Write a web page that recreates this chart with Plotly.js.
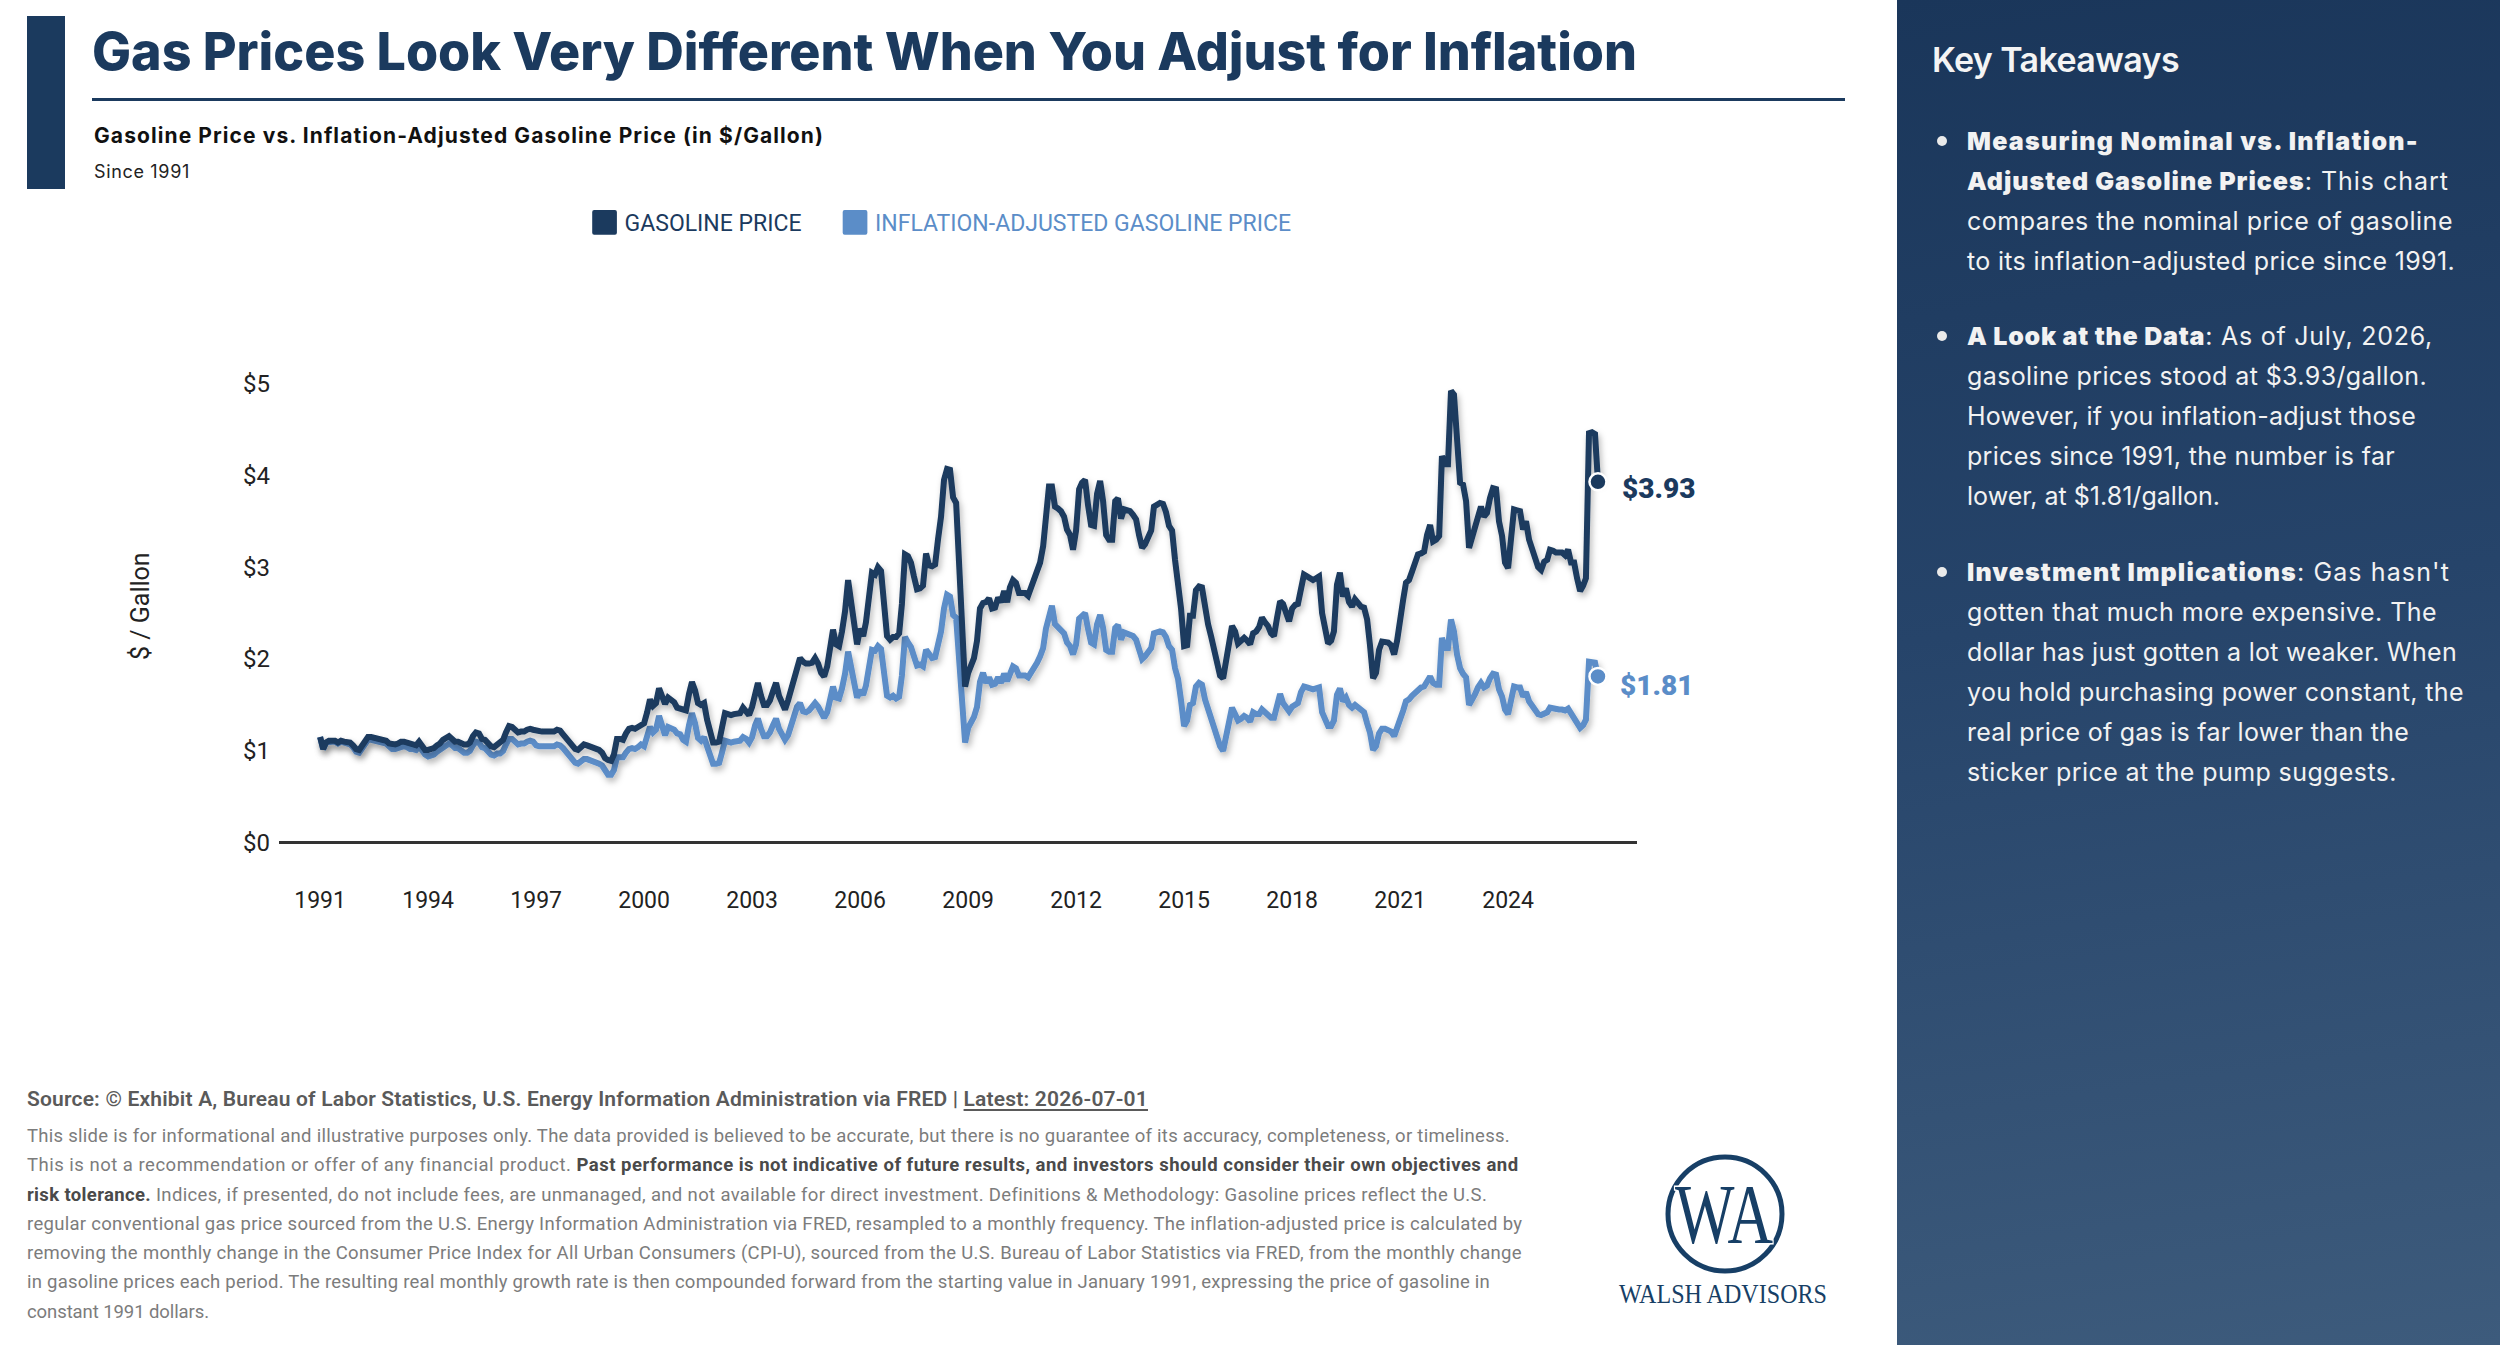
<!DOCTYPE html>
<html>
<head>
<meta charset="utf-8">
<script src="https://cdn.plot.ly/plotly-3.0.1.min.js"></script>
<style>
  html, body { margin:0; padding:0; }
  body { width:2500px; height:1345px; position:relative; overflow:hidden; background:#fff; font-family: Roboto, "Liberation Sans", sans-serif; }
  .abs { position:absolute; white-space:nowrap; }
  .fit { display:inline-block; white-space:nowrap; }
  #bar { left:27px; top:16px; width:38px; height:173px; background:#1b3a5e; }
  #title { left:92px; top:26px; font-family: Inter, Roboto, sans-serif; font-size:52px; line-height:52px; font-weight:800; color:#1b3a5e; }
  #rule { left:92px; top:98px; width:1753px; height:3px; background:#1b3a5e; }
  #subtitle { left:94px; top:125px; font-family: Inter, Roboto, sans-serif; font-size:21px; line-height:22px; font-weight:700; color:#111; }
  #since { left:94px; top:162px; font-family: Inter, Roboto, sans-serif; font-size:18px; line-height:19px; color:#222; }
  #chart { position:absolute; left:0; top:0; width:1897px; height:1345px; }
  #source { left:27px; top:1089px; font-size:21px; line-height:21px; font-weight:600; color:#5a5a5a; }
  #source u { text-underline-offset:3px; }
  #disc { left:27px; top:1122px; font-size:18.5px; line-height:29.3px; color:#7c7c7c; }
  #disc b { color:#4a4a4a; font-weight:700; }
  #panel { left:1897px; top:0; width:603px; height:1345px;
           background: linear-gradient(172deg, #1a365a 0%, #26446a 45%, #3d5b7c 100%); }
  #kt { left:35px; top:42px; font-family: Inter, Roboto, sans-serif; font-size:34px; line-height:36px; font-weight:600; color:#f4f4f4; }
  .para { position:absolute; left:70px; font-family: Inter, Roboto, sans-serif; font-size:25px; line-height:40px; color:#f2f2f2; }
  .para b { font-weight:900; }
  .dot { position:absolute; left:40px; width:10px; height:10px; border-radius:50%; background:#eaeaea; }
</style>
</head>
<body>
<div id="bar" class="abs"></div>
<div id="title" class="abs"><span class="fit" data-w="1545">Gas Prices Look Very Different When You Adjust for Inflation</span></div>
<div id="rule" class="abs"></div>
<div id="subtitle" class="abs"><span class="fit" data-w="730">Gasoline Price vs. Inflation-Adjusted Gasoline Price (in $/Gallon)</span></div>
<div id="since" class="abs"><span class="fit" data-w="96">Since 1991</span></div>

<div id="chart"></div>

<div id="source" class="abs"><span class="fit" data-w="1121">Source: © Exhibit A, Bureau of Labor Statistics, U.S. Energy Information Administration via FRED | <u>Latest: 2026-07-01</u></span></div>
<div id="disc" class="abs">
<span class="fit" data-w="1483">This slide is for informational and illustrative purposes only. The data provided is believed to be accurate, but there is no guarantee of its accuracy, completeness, or timeliness.</span><br>
<span class="fit" data-w="1491">This is not a recommendation or offer of any financial product. <b>Past performance is not indicative of future results, and investors should consider their own objectives and</b></span><br>
<span class="fit" data-w="1459"><b>risk tolerance.</b> Indices, if presented, do not include fees, are unmanaged, and not available for direct investment. Definitions &amp; Methodology: Gasoline prices reflect the U.S.</span><br>
<span class="fit" data-w="1495">regular conventional gas price sourced from the U.S. Energy Information Administration via FRED, resampled to a monthly frequency. The inflation-adjusted price is calculated by</span><br>
<span class="fit" data-w="1495">removing the monthly change in the Consumer Price Index for All Urban Consumers (CPI-U), sourced from the U.S. Bureau of Labor Statistics via FRED, from the monthly change</span><br>
<span class="fit" data-w="1463">in gasoline prices each period. The resulting real monthly growth rate is then compounded forward from the starting value in January 1991, expressing the price of gasoline in</span><br>
<span class="fit" data-w="182">constant 1991 dollars.</span>
</div>

<svg class="abs" style="left:1585px;top:1125px" width="290" height="215" viewBox="0 0 290 215">
  <circle cx="140" cy="89" r="57" fill="none" stroke="#173f66" stroke-width="5"/>
  <text x="90" y="118" font-family="Liberation Serif, DejaVu Serif, serif" font-size="84" fill="#173f66" stroke="#fff" stroke-width="3" paint-order="stroke" textLength="98" lengthAdjust="spacingAndGlyphs">WA</text>
  <text x="34" y="178" font-family="Liberation Serif, DejaVu Serif, serif" font-size="28" fill="#173f66" textLength="208" lengthAdjust="spacingAndGlyphs">WALSH ADVISORS</text>
</svg>

<div id="panel" class="abs">
  <div id="kt" class="abs"><span class="fit" data-w="247">Key Takeaways</span></div>
  <div class="dot" style="top:136px"></div>
  <div class="para" style="top:121px">
    <span class="fit" data-w="452"><b>Measuring Nominal vs. Inflation-</b></span><br>
    <span class="fit" data-w="482"><b>Adjusted Gasoline Prices</b>: This chart</span><br>
    <span class="fit" data-w="486">compares the nominal price of gasoline</span><br>
    <span class="fit" data-w="488">to its inflation-adjusted price since 1991.</span>
  </div>
  <div class="dot" style="top:331px"></div>
  <div class="para" style="top:316px">
    <span class="fit" data-w="466"><b>A Look at the Data</b>: As of July, 2026,</span><br>
    <span class="fit" data-w="460">gasoline prices stood at $3.93/gallon.</span><br>
    <span class="fit" data-w="449">However, if you inflation-adjust those</span><br>
    <span class="fit" data-w="428">prices since 1991, the number is far</span><br>
    <span class="fit" data-w="253">lower, at $1.81/gallon.</span>
  </div>
  <div class="dot" style="top:567px"></div>
  <div class="para" style="top:552px">
    <span class="fit" data-w="483"><b>Investment Implications</b>: Gas hasn't</span><br>
    <span class="fit" data-w="470">gotten that much more expensive. The</span><br>
    <span class="fit" data-w="490">dollar has just gotten a lot weaker. When</span><br>
    <span class="fit" data-w="497">you hold purchasing power constant, the</span><br>
    <span class="fit" data-w="442">real price of gas is far lower than the</span><br>
    <span class="fit" data-w="430">sticker price at the pump suggests.</span>
  </div>
</div>

<script>
// ---- Data (monthly, starting January 1991) ----
const startYear = 1991;
const gasolinePrice = [
  1.15,1.02,1.09,1.11,1.11,1.11,1.09,1.11,1.10,1.10,1.09,1.06,
  1.02,1.01,1.05,1.10,1.15,1.15,1.14,1.13,1.13,1.12,1.11,1.08,
  1.07,1.07,1.08,1.10,1.10,1.09,1.07,1.07,1.06,1.10,1.05,1.01,
  1.01,1.02,1.03,1.06,1.08,1.12,1.15,1.16,1.13,1.10,1.10,1.08,
  1.07,1.07,1.09,1.16,1.20,1.19,1.13,1.12,1.08,1.05,1.04,1.06,
  1.09,1.12,1.20,1.27,1.26,1.22,1.20,1.21,1.21,1.23,1.24,1.23,
  1.22,1.21,1.21,1.21,1.21,1.20,1.21,1.23,1.22,1.18,1.14,1.10,
  1.06,1.02,1.01,1.04,1.07,1.06,1.05,1.03,1.02,1.01,0.98,0.92,
  0.90,0.89,0.96,1.13,1.13,1.12,1.19,1.24,1.25,1.24,1.26,1.29,
  1.30,1.42,1.56,1.49,1.52,1.68,1.60,1.51,1.58,1.55,1.53,1.47,
  1.46,1.46,1.44,1.62,1.75,1.66,1.52,1.50,1.52,1.34,1.20,1.09,
  1.09,1.10,1.25,1.41,1.40,1.39,1.40,1.40,1.41,1.47,1.44,1.39,
  1.48,1.65,1.74,1.60,1.50,1.50,1.55,1.65,1.74,1.60,1.52,1.45,
  1.55,1.68,1.80,1.95,2.01,1.97,1.95,1.95,1.96,2.01,1.95,1.85,
  1.81,1.92,2.10,2.32,2.16,2.14,2.30,2.52,2.86,2.60,2.30,2.16,
  2.33,2.25,2.40,2.75,2.94,2.92,3.00,2.96,2.55,2.25,2.21,2.24,
  2.24,2.28,2.60,3.14,3.12,3.05,2.90,2.76,2.77,2.80,3.15,3.02,
  3.01,3.03,3.30,3.55,3.95,4.07,4.06,3.76,3.70,3.05,2.35,1.70,
  1.85,1.95,2.01,2.20,2.55,2.61,2.62,2.66,2.55,2.56,2.67,2.62,
  2.74,2.62,2.78,2.86,2.83,2.72,2.72,2.72,2.69,2.78,2.84,2.94,
  3.05,3.23,3.56,3.88,3.88,3.66,3.64,3.61,3.55,3.41,3.35,3.19,
  3.40,3.85,3.92,3.95,3.68,3.46,3.45,3.80,3.94,3.72,3.35,3.30,
  3.30,3.72,3.75,3.53,3.63,3.62,3.61,3.57,3.52,3.35,3.21,3.25,
  3.32,3.40,3.66,3.68,3.70,3.69,3.60,3.45,3.40,3.08,2.85,2.55,
  2.14,2.15,2.47,2.47,2.75,2.79,2.78,2.55,2.38,2.25,2.10,1.98,
  1.82,1.79,2.00,2.18,2.36,2.30,2.17,2.20,2.23,2.20,2.16,2.28,
  2.30,2.35,2.45,2.40,2.36,2.28,2.25,2.45,2.63,2.60,2.52,2.41,
  2.55,2.59,2.60,2.80,2.92,2.90,2.88,2.86,2.88,2.90,2.50,2.36,
  2.17,2.20,2.30,2.81,2.94,2.68,2.77,2.62,2.57,2.65,2.60,2.57,
  2.56,2.43,2.15,1.79,1.85,2.10,2.19,2.19,2.18,2.15,2.05,2.20,
  2.47,2.65,2.83,2.86,2.95,3.03,3.14,3.15,3.17,3.35,3.46,3.28,
  3.30,3.34,4.21,4.12,4.12,4.92,4.88,4.40,3.92,3.90,3.72,3.21,
  3.32,3.40,3.55,3.66,3.55,3.59,3.75,3.86,3.85,3.50,3.34,3.05,
  2.99,3.30,3.63,3.62,3.61,3.41,3.50,3.30,3.19,3.08,3.00,2.97,
  3.06,3.08,3.19,3.18,3.16,3.16,3.16,3.13,3.19,3.05,3.05,2.88,
  2.74,2.80,2.88,4.46,4.47,4.45,3.93
];
const inflationAdjustedPrice = [
  1.15,1.02,1.09,1.10,1.10,1.10,1.08,1.10,1.09,1.08,1.07,1.04,
  0.99,0.98,1.02,1.07,1.12,1.12,1.11,1.10,1.10,1.09,1.08,1.05,
  1.02,1.02,1.03,1.05,1.05,1.04,1.02,1.02,1.01,1.05,1.00,0.96,
  0.94,0.95,0.96,0.99,1.01,1.05,1.07,1.08,1.06,1.03,1.03,1.01,
  0.98,0.98,1.00,1.06,1.10,1.09,1.04,1.03,0.99,0.96,0.95,0.97,
  0.97,1.00,1.07,1.13,1.13,1.09,1.07,1.08,1.08,1.10,1.11,1.10,
  1.06,1.05,1.05,1.05,1.05,1.04,1.05,1.07,1.06,1.03,0.99,0.96,
  0.91,0.87,0.86,0.89,0.91,0.91,0.90,0.88,0.87,0.86,0.84,0.79,
  0.74,0.74,0.79,0.93,0.93,0.93,0.98,1.02,1.03,1.02,1.04,1.07,
  1.05,1.15,1.26,1.20,1.23,1.38,1.25,1.17,1.26,1.25,1.23,1.19,
  1.18,1.12,1.10,1.28,1.41,1.30,1.14,1.11,1.15,1.05,0.95,0.86,
  0.86,0.87,0.98,1.11,1.10,1.09,1.10,1.10,1.11,1.15,1.13,1.09,
  1.15,1.28,1.35,1.24,1.16,1.16,1.20,1.28,1.35,1.24,1.18,1.12,
  1.17,1.27,1.36,1.48,1.52,1.43,1.42,1.44,1.48,1.52,1.48,1.40,
  1.36,1.42,1.54,1.70,1.58,1.57,1.68,1.84,2.08,1.90,1.68,1.58,
  1.66,1.61,1.71,1.96,2.10,2.09,2.14,2.11,1.82,1.60,1.58,1.60,
  1.57,1.59,1.82,2.24,2.18,2.13,2.03,1.93,1.94,1.92,2.10,2.05,
  2.01,2.02,2.14,2.30,2.55,2.70,2.68,2.48,2.45,2.00,1.55,1.09,
  1.25,1.30,1.37,1.48,1.75,1.85,1.74,1.80,1.72,1.73,1.80,1.74,
  1.84,1.76,1.86,1.92,1.90,1.82,1.82,1.82,1.80,1.85,1.88,1.96,
  2.03,2.12,2.33,2.50,2.58,2.38,2.35,2.32,2.28,2.18,2.14,2.05,
  2.16,2.44,2.48,2.50,2.33,2.18,2.16,2.38,2.48,2.34,2.10,2.08,
  2.08,2.34,2.37,2.21,2.29,2.28,2.27,2.25,2.21,2.10,2.00,2.03,
  2.07,2.12,2.28,2.29,2.30,2.29,2.24,2.14,2.10,1.90,1.78,1.55,
  1.27,1.33,1.50,1.52,1.70,1.74,1.72,1.56,1.45,1.36,1.27,1.18,
  1.05,1.00,1.18,1.33,1.47,1.40,1.33,1.35,1.38,1.36,1.32,1.42,
  1.40,1.40,1.45,1.42,1.38,1.36,1.36,1.48,1.62,1.52,1.48,1.43,
  1.48,1.50,1.52,1.64,1.70,1.69,1.68,1.67,1.68,1.69,1.42,1.33,
  1.27,1.27,1.33,1.61,1.68,1.54,1.58,1.50,1.47,1.50,1.47,1.45,
  1.42,1.30,1.20,1.01,1.05,1.19,1.24,1.24,1.23,1.21,1.16,1.24,
  1.34,1.44,1.54,1.56,1.60,1.63,1.68,1.69,1.70,1.76,1.81,1.74,
  1.72,1.72,2.23,2.12,2.12,2.43,2.30,2.05,1.90,1.84,1.80,1.50,
  1.58,1.62,1.69,1.74,1.69,1.71,1.79,1.84,1.83,1.67,1.59,1.45,
  1.40,1.54,1.70,1.69,1.69,1.59,1.64,1.54,1.49,1.44,1.40,1.39,
  1.41,1.42,1.47,1.46,1.45,1.45,1.45,1.44,1.46,1.40,1.36,1.30,
  1.25,1.28,1.34,1.97,1.97,1.96,1.81
];
const seriesNames = ['GASOLINE PRICE', 'INFLATION-ADJUSTED GASOLINE PRICE'];
const xTickYears = [1991,1994,1997,2000,2003,2006,2009,2012,2015,2018,2021,2024];
const yTickValues = [0,1,2,3,4,5];
const yTickLabels = ['$0','$1','$2','$3','$4','$5'];
const yAxisTitle = '$ / Gallon';

// ---- Styling ----
const DARK = '#1b3a5e';
const LIGHT = '#5b8dc8';
const NBSP = '\u00a0';

const dates = gasolinePrice.map((_, i) => {
  const y = startYear + Math.floor(i / 12);
  const m = (i % 12) + 1;
  return y + '-' + String(m).padStart(2, '0') + '-01';
});
const last = dates.length - 1;

const traces = [
  { x: dates, y: inflationAdjustedPrice, type: 'scatter', mode: 'lines', name: seriesNames[1], showlegend: false, hoverinfo: 'skip',
    line: { color: LIGHT, width: 6, shape: 'linear' } },
  { x: dates, y: gasolinePrice, type: 'scatter', mode: 'lines', name: seriesNames[0], showlegend: false, hoverinfo: 'skip',
    line: { color: DARK, width: 6, shape: 'linear' } },
  { x: [dates[last]], y: [gasolinePrice[last]], type: 'scatter', mode: 'markers', showlegend: false, hoverinfo: 'skip',
    marker: { size: 17, color: DARK, line: { color: '#ffffff', width: 2.5 } }, cliponaxis: false },
  { x: [dates[last]], y: [inflationAdjustedPrice[last]], type: 'scatter', mode: 'markers', showlegend: false, hoverinfo: 'skip',
    marker: { size: 17, color: LIGHT, line: { color: '#ffffff', width: 2.5 } }, cliponaxis: false },
  // legend entries
  { x: [null], y: [null], type: 'scatter', mode: 'markers', name: seriesNames[0] + NBSP.repeat(5),
    marker: { size: 16, symbol: 'square', color: DARK, line: { width: 0 } } },
  { x: [null], y: [null], type: 'scatter', mode: 'markers',
    name: '<span style="color:' + LIGHT + '">' + seriesNames[1] + '</span>',
    marker: { size: 16, symbol: 'square', color: LIGHT, line: { width: 0 } } }
];

const layout = {
  width: 1897, height: 1345,
  margin: { l: 279, r: 260, t: 356, b: 461, pad: 0 },
  paper_bgcolor: 'rgba(0,0,0,0)', plot_bgcolor: 'rgba(0,0,0,0)',
  font: { family: 'Roboto, "Liberation Sans", sans-serif', size: 23, color: '#222' },
  showlegend: true,
  legend: { orientation: 'h', x: 0.225, xanchor: 'left', y: 1.253, yanchor: 'middle',
            font: { size: 23, color: DARK }, bgcolor: 'rgba(0,0,0,0)' },
  xaxis: { type: 'date', range: ['1989-11-10', '2027-08-01'],
           tickmode: 'array', tickvals: xTickYears.map(y => y + '-01-01'), ticktext: xTickYears.map(String),
           showgrid: false, zeroline: false, showline: false, ticks: '', tickfont: { size: 23, color: '#222' } },
  yaxis: { range: [-0.45, 5.3], tickmode: 'array', tickvals: yTickValues, ticktext: yTickLabels,
           showgrid: false, zeroline: true, zerolinecolor: '#333333', zerolinewidth: 3, showline: false,
           ticks: '', ticklabelstandoff: 8, tickfont: { size: 24, color: '#222' } },
  annotations: [
    { x: -0.1024, y: 0.5265, xref: 'paper', yref: 'paper', text: yAxisTitle, textangle: -90,
      showarrow: false, xanchor: 'center', yanchor: 'middle', font: { size: 25, color: '#222' } },
    { x: dates[last], y: gasolinePrice[last], xref: 'x', yref: 'y', text: '$' + gasolinePrice[last].toFixed(2),
      showarrow: false, xanchor: 'left', yanchor: 'middle', xshift: 22, yshift: -7,
      font: { size: 28, color: DARK, weight: 900 } },
    { x: dates[last], y: inflationAdjustedPrice[last], xref: 'x', yref: 'y', text: '$' + inflationAdjustedPrice[last].toFixed(2),
      showarrow: false, xanchor: 'left', yanchor: 'middle', xshift: 20, yshift: -9,
      font: { size: 28, color: LIGHT, weight: 900 } }
  ]
};

Plotly.newPlot('chart', traces, layout, { staticPlot: true, displayModeBar: false }).then(gd => {
  const svg = gd.querySelector('svg.main-svg');
  const ns = 'http://www.w3.org/2000/svg';
  let defs = svg.querySelector('defs');
  if (!defs) { defs = document.createElementNS(ns, 'defs'); svg.insertBefore(defs, svg.firstChild); }
  const f = document.createElementNS(ns, 'filter');
  f.setAttribute('id', 'lineShadow');
  f.setAttribute('x', '-3%'); f.setAttribute('y', '-10%');
  f.setAttribute('width', '108%'); f.setAttribute('height', '125%');
  const ds = document.createElementNS(ns, 'feDropShadow');
  ds.setAttribute('dx', '2'); ds.setAttribute('dy', '4'); ds.setAttribute('stdDeviation', '3');
  ds.setAttribute('flood-color', '#000'); ds.setAttribute('flood-opacity', '0.28');
  f.appendChild(ds); defs.appendChild(f);
  gd.querySelectorAll('.scatterlayer .trace path.js-line').forEach(p => p.setAttribute('filter', 'url(#lineShadow)'));
  // enlarge legend symbols (rounded look)
  gd.querySelectorAll('.legend .legendpoints path.scatterpts').forEach(p => {
    const t = p.getAttribute('transform') || '';
    p.setAttribute('transform', t + ' scale(1.3)');
    p.setAttribute('stroke-linejoin', 'round');
    p.style.strokeWidth = '3px';
    p.style.stroke = p.style.fill;
  });
});

function fitAll() {
  document.querySelectorAll('.fit[data-w]').forEach(el => {
    el.style.letterSpacing = '0px';
    const w = el.getBoundingClientRect().width;
    const n = el.textContent.length;
    const target = parseFloat(el.getAttribute('data-w'));
    if (n > 1) el.style.letterSpacing = ((target - w) / n).toFixed(3) + 'px';
  });
}
if (document.fonts && document.fonts.ready) { document.fonts.ready.then(fitAll); } else { fitAll(); }
</script>
</body>
</html>
